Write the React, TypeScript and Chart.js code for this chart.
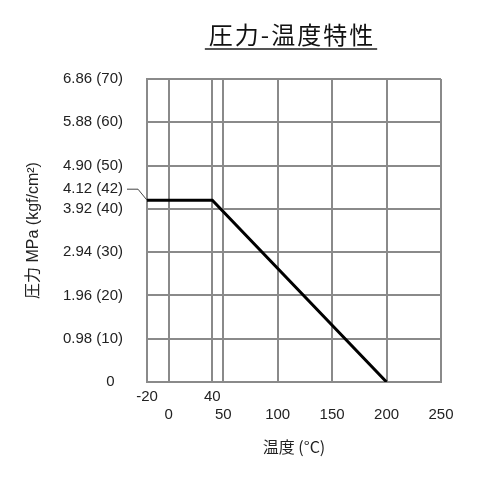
import React, { useEffect, useRef } from "react";
import { Chart, registerables } from "chart.js";

Chart.register(...registerables);

// ---- data ----
const temperatures = [-20, 40, 200];
const pressuresKgf = [42, 42, 0];
const xTickValues = [-20, 0, 40, 50, 100, 150, 200, 250];
const xUpperRowTicks = [-20, 40];
const yTickValues = [0, 10, 20, 30, 40, 50, 60, 70];
const yTickLabels = ["0  ", "0.98 (10)", "1.96 (20)", "2.94 (30)", "3.92 (40)", "4.90 (50)", "5.88 (60)", "6.86 (70)"];
const ratedPressure = 42;
const ratedPressureLabel = "4.12 (42)";
const titleText = "圧力-温度特性";
const xTitle = "温度 (°C)";
const yTitle = "圧力 MPa (kgf/cm²)";

const LATIN = "'Liberation Sans', Arial, 'Noto Sans CJK JP', sans-serif";
const CJK = "'Noto Sans CJK JP', 'Liberation Sans', sans-serif";
const GRID = "#8a8a8a";
const TEXT = "#222";

const extrasPlugin = {
  id: "extras",
  afterDraw(chart: any) {
    const { ctx, scales, chartArea } = chart;
    const y = scales.y;
    const py = y.getPixelForValue(ratedPressure);
    const left = chartArea.left;
    ctx.save();
    ctx.font = `15px ${LATIN}`;
    ctx.fillStyle = TEXT;
    ctx.textAlign = "right";
    ctx.textBaseline = "middle";
    const ly = py - 11;
    const lx = left - 24;
    ctx.fillText(ratedPressureLabel, lx, ly);
    ctx.strokeStyle = "#444";
    ctx.lineWidth = 1;
    ctx.beginPath();
    ctx.moveTo(lx + 4, ly);
    ctx.lineTo(left - 9, ly);
    ctx.lineTo(left, py);
    ctx.stroke();

    // title (drawn with letter spacing) and underline
    const tb = chart.titleBlock;
    if (tb) {
      ctx.font = `24px ${CJK}`;
      try {
        (ctx as any).letterSpacing = "2px";
      } catch (e) {}
      const w = ctx.measureText(titleText).width;
      const cx = (chartArea.left + chartArea.right) / 2 - 2;
      ctx.fillStyle = "#111";
      ctx.textAlign = "left";
      ctx.textBaseline = "middle";
      ctx.fillText(titleText, cx - w / 2, 35);
      ctx.strokeStyle = "#555";
      ctx.lineWidth = 2;
      ctx.beginPath();
      ctx.moveTo(cx - w / 2 - 4, 49);
      ctx.lineTo(cx + w / 2 + 2, 49);
      ctx.stroke();
      try {
        (ctx as any).letterSpacing = "0px";
      } catch (e) {}
    }
    ctx.restore();
  },
};

export default function App() {
  const ref = useRef<HTMLCanvasElement>(null);
  useEffect(() => {
    if (!ref.current) return;
    const chart = new Chart(ref.current, {
      type: "line",
      data: {
        datasets: [
          {
            data: temperatures.map((t, i) => ({ x: t, y: pressuresKgf[i] })),
            borderColor: "#000",
            borderWidth: 3,
            pointRadius: 0,
            tension: 0,
            fill: false,
          },
        ],
      },
      options: {
        responsive: false,
        animation: false,
        layout: { padding: { left: 0, right: 59, top: 0, bottom: 0 } },
        plugins: {
          legend: { display: false },
          tooltip: { enabled: false },
          title: {
            display: true,
            text: titleText,
            fullSize: false,
            color: "rgba(0,0,0,0)",
            font: { family: CJK, size: 24, weight: "normal" },
            padding: { top: 20.6, bottom: 29.6 },
          },
        },
        scales: {
          x: {
            type: "linear",
            min: -20,
            max: 250,
            afterBuildTicks: (s: any) => {
              s.ticks = xTickValues.map((v) => ({ value: v }));
            },
            afterFit: (s: any) => {
              s.height = 96;
            },
            grid: { color: GRID, lineWidth: 2, drawTicks: false },
            border: { color: GRID, width: 2 },
            ticks: {
              autoSkip: false,
              maxRotation: 0,
              padding: 6,
              color: TEXT,
              font: { family: LATIN, size: 15 },
              callback: (v: any) =>
                xUpperRowTicks.includes(Number(v)) ? [String(v), ""] : ["", String(v)],
            },
            title: {
              display: true,
              text: xTitle,
              color: TEXT,
              font: { family: CJK, size: 16 },
              padding: { top: 21, bottom: 21 },
            },
          },
          y: {
            type: "linear",
            min: 0,
            max: 70,
            afterBuildTicks: (s: any) => {
              s.ticks = yTickValues.map((v) => ({ value: v }));
            },
            afterFit: (s: any) => {
              s.width = 147;
            },
            grid: { color: GRID, lineWidth: 2, drawTicks: false },
            border: { color: GRID, width: 2 },
            ticks: {
              autoSkip: false,
              padding: 24,
              color: TEXT,
              font: { family: LATIN, size: 15 },
              callback: (v: any) => {
                const i = yTickValues.indexOf(Number(v));
                return i >= 0 ? yTickLabels[i] : "";
              },
            },
            title: {
              display: true,
              text: yTitle,
              color: TEXT,
              font: { family: LATIN, size: 16 },
              padding: { top: 24, bottom: 24 },
            },
          },
        },
      },
      plugins: [extrasPlugin],
    } as any);
    return () => chart.destroy();
  }, []);
  return (
    <div style={{ position: "absolute", left: 0, top: 0, width: 500, height: 478, background: "#fff" }}>
      <canvas ref={ref} width={500} height={478} style={{ width: 500, height: 478, display: "block" }} />
    </div>
  );
}
